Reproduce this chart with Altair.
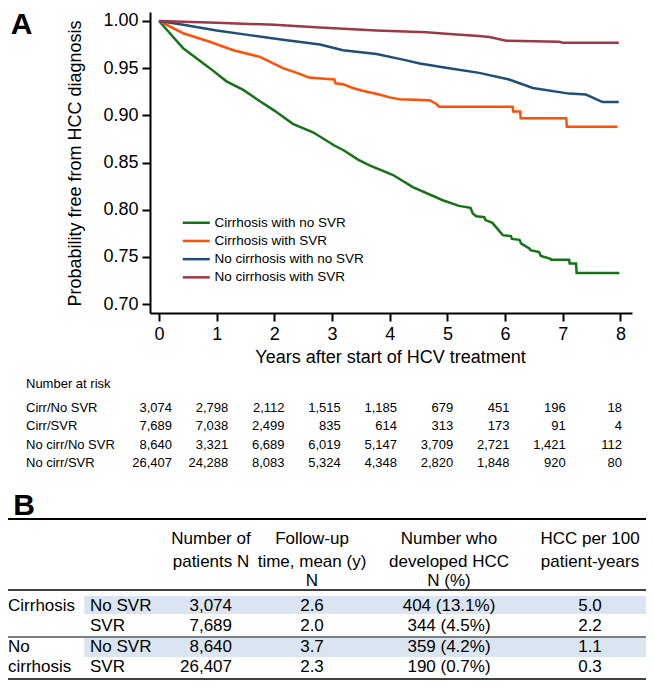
import altair as alt
import pandas as pd

FONT = "Liberation Sans"

# ---------------- Panel A: Kaplan-Meier curves ----------------
group_names = ["Cirrhosis with no SVR", "Cirrhosis with SVR",
               "No cirrhosis with no SVR", "No cirrhosis with SVR"]
group_colors = ["#167216", "#ff5008", "#1f4e79", "#9a3a45"]

t_cirr_nosvr = [0, 0.42, 0.88, 1.17, 1.46, 1.75, 2.00, 2.32, 2.67, 3.04,
                3.20, 3.45, 3.65, 4.05, 4.40, 4.92, 5.20, 5.40, 5.44, 5.50,
                5.64, 5.66, 5.78, 5.85, 5.96, 6.10, 6.12, 6.25, 6.28, 6.42,
                6.44, 6.59, 6.62, 6.79, 6.80, 7.11, 7.12, 7.23, 7.24, 7.98]
s_cirr_nosvr = [1.000, 0.971, 0.950, 0.936, 0.927, 0.915, 0.905, 0.891, 0.882, 0.868,
                0.863, 0.853, 0.847, 0.837, 0.824, 0.810, 0.804, 0.802, 0.796, 0.793,
                0.792, 0.789, 0.786, 0.781, 0.773, 0.772, 0.769, 0.768, 0.764, 0.759,
                0.757, 0.755, 0.751, 0.748, 0.747, 0.747, 0.743, 0.743, 0.733, 0.733]

t_cirr_svr = [0, 0.42, 0.88, 1.29, 1.75, 2.15, 2.44, 2.60, 3.04, 3.06,
              3.19, 3.36, 3.53, 3.82, 4.00, 4.17, 4.69, 4.81, 4.86, 6.13,
              6.14, 6.26, 6.27, 7.06, 7.07, 7.95]
s_cirr_svr = [1.000, 0.987, 0.978, 0.969, 0.962, 0.950, 0.944, 0.940, 0.938, 0.934,
              0.933, 0.929, 0.926, 0.922, 0.919, 0.917, 0.916, 0.912, 0.909, 0.909,
              0.904, 0.904, 0.897, 0.897, 0.888, 0.888]

t_nocirr_nosvr = [0, 0.42, 1.00, 1.57, 2.15, 2.79, 3.19, 3.77, 4.23, 4.52,
                  5.03, 5.55, 6.07, 6.48, 7.11, 7.40, 7.55, 7.69, 7.97]
s_nocirr_nosvr = [1.000, 0.996, 0.990, 0.985, 0.980, 0.975, 0.969, 0.965, 0.959, 0.955,
                  0.950, 0.945, 0.938, 0.929, 0.923, 0.922, 0.918, 0.914, 0.914]

t_nocirr_svr = [0, 1.00, 2.00, 2.79, 3.77, 4.63, 5.10, 5.55, 5.73, 6.02, 6.94, 7.00, 7.97]
s_nocirr_svr = [1.000, 0.998, 0.996, 0.993, 0.990, 0.988, 0.986, 0.984, 0.983, 0.979,
                0.978, 0.977, 0.977]

x_ticks = [0, 1, 2, 3, 4, 5, 6, 7, 8]
y_ticks = [0.70, 0.75, 0.80, 0.85, 0.90, 0.95, 1.00]

# ---------------- Number at risk ----------------
risk_labels = ["Cirr/No SVR", "Cirr/SVR", "No cirr/No SVR", "No cirr/SVR"]
risk_cirr_nosvr = [3074, 2798, 2112, 1515, 1185, 679, 451, 196, 18]
risk_cirr_svr = [7689, 7038, 2499, 835, 614, 313, 173, 91, 4]
risk_nocirr_nosvr = [8640, 3321, 6689, 6019, 5147, 3709, 2721, 1421, 112]
risk_nocirr_svr = [26407, 24288, 8083, 5324, 4348, 2820, 1848, 920, 80]

# ---------------- Panel B table ----------------
tb_groups = ["Cirrhosis", "No", "cirrhosis"]
tb_sub = ["No SVR", "SVR", "No SVR", "SVR"]
tb_patients = [3074, 7689, 8640, 26407]
tb_followup = [2.6, 2.0, 3.7, 2.3]
tb_hcc_n = [404, 344, 359, 190]
tb_hcc_pct = [13.1, 4.5, 4.2, 0.7]
tb_rate = [5.0, 2.2, 1.1, 0.3]
tb_headers = [["Number of", "patients N"],
              ["Follow-up", "time, mean (y)", "N"],
              ["Number who", "developed HCC", "N (%)"],
              ["HCC per 100", "patient-years"]]

# ---------------- build tables ----------------
rows = []
for g, ts, ss in zip(group_names,
                     [t_cirr_nosvr, t_cirr_svr, t_nocirr_nosvr, t_nocirr_svr],
                     [s_cirr_nosvr, s_cirr_svr, s_nocirr_nosvr, s_nocirr_svr]):
    for i, (t, s) in enumerate(zip(ts, ss)):
        rows.append({"group": g, "t": t, "s": s, "i": i})
km_df = pd.DataFrame(rows)

x_km = alt.Scale(domain=[-0.156, 8.2], range=[142, 624], nice=False, zero=False)
y_km = alt.Scale(domain=[0.6905, 1.0095], range=[305, 4], nice=False, zero=False)

lines = alt.Chart(km_df).mark_line(strokeWidth=2.5).encode(
    x=alt.X("t:Q", scale=x_km,
            axis=alt.Axis(values=x_ticks, format="d",
                          title="Years after start of HCV treatment",
                          offset=-368, titleX=382, titleY=44, titleAlign="center",
                          titleBaseline="middle", labelPadding=4, tickSize=8,
                          labelFlush=False, grid=False)),
    y=alt.Y("s:Q", scale=y_km,
            axis=alt.Axis(values=y_ticks, format=".2f",
                          title="Probability free from HCC diagnosis",
                          offset=-142, titleX=-75, titleY=155, titleAngle=270,
                          titleAlign="center", titleBaseline="middle",
                          labelPadding=4, tickSize=8, labelFlush=False, grid=False)),
    color=alt.Color("group:N",
                    scale=alt.Scale(domain=group_names, range=group_colors),
                    legend=alt.Legend(orient="none", legendX=181.5, legendY=208,
                                      title=None, symbolType="M-2.7,0H2.7",
                                      symbolSize=100, symbolStrokeWidth=2.5,
                                      labelFontSize=13.5, labelFont=FONT,
                                      labelColor="black", labelOffset=11.5,
                                      rowPadding=3.2, padding=0)),
    order=alt.Order("i:Q"),
)

letter_a = alt.Chart(pd.DataFrame({"letter": ["A"]})).mark_text(
    fontSize=30, fontWeight="bold", font=FONT, color="black",
    align="center", baseline="middle").encode(
    x=alt.XDatum(-2.383, scale=x_km),
    y=alt.YDatum(0.9952, scale=y_km),
    text="letter:N",
)

km_layer = alt.layer(lines, letter_a)

# risk table
risk_rows = []
for r, (lab, vals) in enumerate(zip(risk_labels, [risk_cirr_nosvr, risk_cirr_svr,
                                                  risk_nocirr_nosvr, risk_nocirr_svr])):
    for c, v in enumerate(vals):
        risk_rows.append({"row": r, "col": c, "n": v})
risk_df = pd.DataFrame(risk_rows)
risk_lab_df = pd.DataFrame({"row": [-1] + list(range(len(risk_labels))),
                            "col": [-1] * (len(risk_labels) + 1),
                            "label": ["Number at risk"] + risk_labels})

x_risk = alt.Scale(domain=[-1, 0, 8], range=[18, 164, 614], nice=False, zero=False)
y_risk = alt.Scale(domain=[-1, 0, 3], range=[376, 400, 455], nice=False, zero=False)

risk_nums = alt.Chart(risk_df).mark_text(
    align="right", baseline="middle", fontSize=13, font=FONT, color="black").encode(
    x=alt.X("col:Q", scale=x_risk, axis=None),
    y=alt.Y("row:Q", scale=y_risk, axis=None),
    text=alt.Text("n:Q", format=","),
)
risk_labs = alt.Chart(risk_lab_df).mark_text(
    align="left", baseline="middle", fontSize=13, font=FONT, color="black").encode(
    x=alt.X("col:Q", scale=x_risk, axis=None),
    y=alt.Y("row:Q", scale=y_risk, axis=None),
    text="label:N",
)
risk_layer = alt.layer(risk_nums, risk_labs)

# panel B table
x_tb = alt.Scale(domain=[0, 1, 2, 3, 4, 5], range=[0, 82, 203, 304, 441, 582],
                 nice=False, zero=False)
y_tb = alt.Scale(domain=[0, 1, 2, 3, 4, 5, 6], range=[531, 554, 573, 598, 618, 639, 659],
                 nice=False, zero=False)

shade_df = pd.DataFrame({"c1": [0.93, 0.93], "c2": [5.4, 5.4],
                         "r1": [2.6, 4.571], "r2": [3.4, 5.5]})
rule_df = pd.DataFrame({"c1": [0, 0, 0, 0], "c2": [5.4, 5.4, 5.4, 5.4],
                        "r": [-0.87, 2.36, 4.524, 6.6], "w": [2.0, 1.5, 1.2, 1.6]})

shade = alt.Chart(shade_df).mark_rect(color="#dbe5f1").encode(
    x=alt.X("c1:Q", scale=x_tb, axis=None), x2="c2:Q",
    y=alt.Y("r1:Q", scale=y_tb, axis=None), y2="r2:Q",
)
rules = alt.Chart(rule_df).mark_rule(color="black").encode(
    x=alt.X("c1:Q", scale=x_tb, axis=None), x2="c2:Q",
    y=alt.Y("r:Q", scale=y_tb, axis=None),
    strokeWidth=alt.StrokeWidth("w:Q", scale=None, legend=None),
)

center_cells = []
for ci, lines_txt in enumerate(tb_headers):
    for ri, txt in enumerate(lines_txt):
        center_cells.append({"col": ci + 2, "row": ri, "txt": txt})
for k in range(4):
    center_cells.append({"col": 3, "row": 3 + k, "txt": f"{tb_followup[k]:.1f}"})
    center_cells.append({"col": 4, "row": 3 + k,
                         "txt": f"{tb_hcc_n[k]} ({tb_hcc_pct[k]:.1f}%)"})
    center_cells.append({"col": 5, "row": 3 + k, "txt": f"{tb_rate[k]:.1f}"})
center_df = pd.DataFrame(center_cells)

right_df = pd.DataFrame({"col": [2] * 4, "row": [3, 4, 5, 6], "n": tb_patients})

left_cells = [{"col": 0, "row": r, "txt": g} for r, g in zip([3, 5, 6], tb_groups)]
left_cells += [{"col": 1, "row": 3 + k, "txt": s} for k, s in enumerate(tb_sub)]
left_df = pd.DataFrame(left_cells)

TB_FS = 17
center_txt = alt.Chart(center_df).mark_text(
    align="center", baseline="middle", fontSize=TB_FS, font=FONT, color="black").encode(
    x=alt.X("col:Q", scale=x_tb, axis=None),
    y=alt.Y("row:Q", scale=y_tb, axis=None),
    text="txt:N",
)
right_txt = alt.Chart(right_df).mark_text(
    align="right", baseline="middle", dx=21, fontSize=TB_FS, font=FONT, color="black").encode(
    x=alt.X("col:Q", scale=x_tb, axis=None),
    y=alt.Y("row:Q", scale=y_tb, axis=None),
    text=alt.Text("n:Q", format=","),
)
left_txt = alt.Chart(left_df).mark_text(
    align="left", baseline="middle", fontSize=TB_FS, font=FONT, color="black").encode(
    x=alt.X("col:Q", scale=x_tb, axis=None),
    y=alt.Y("row:Q", scale=y_tb, axis=None),
    text="txt:N",
)
letter_b = alt.Chart(pd.DataFrame({"letter": ["B"]})).mark_text(
    fontSize=30, fontWeight="bold", font=FONT, color="black",
    align="center", baseline="middle").encode(
    x=alt.XDatum(0.195, scale=x_tb, axis=None),
    y=alt.YDatum(-1.45, scale=y_tb, axis=None),
    text="letter:N",
)
tb_layer = alt.layer(shade, rules, center_txt, right_txt, left_txt, letter_b)

chart = alt.layer(km_layer, risk_layer, tb_layer).resolve_scale(
    x="independent", y="independent", color="independent"
).properties(
    width=638, height=673, padding=0,
    autosize=alt.AutoSizeParams(type="none"),
).configure(font=FONT).configure_view(stroke=None).configure_axis(
    domainColor="black", domainWidth=2, tickColor="black", tickWidth=2,
    labelFont=FONT, labelFontSize=18, labelColor="black",
    titleFont=FONT, titleFontSize=18, titleFontWeight="normal", titleColor="black",
)

chart.save("out.html", embed_options={"renderer": "svg", "actions": False})
